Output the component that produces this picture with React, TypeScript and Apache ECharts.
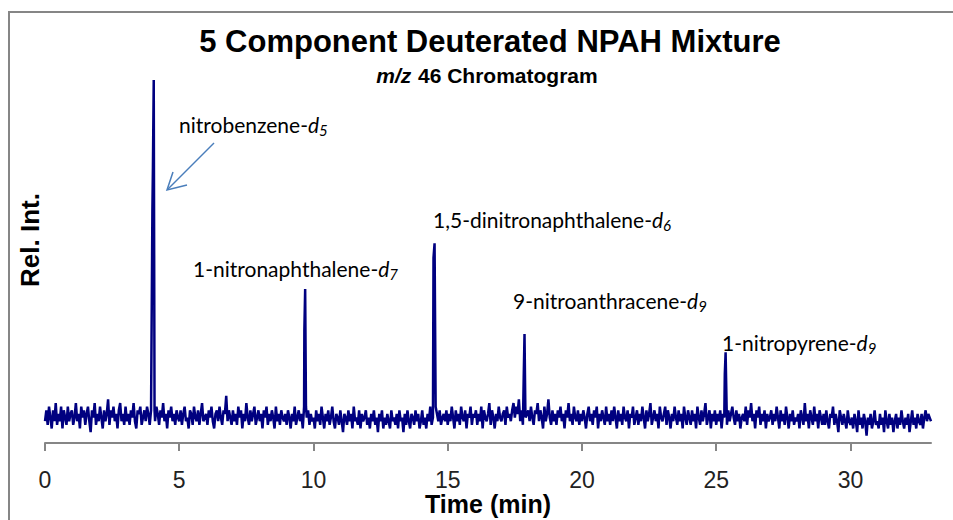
import React, { useEffect, useRef } from "react";
import * as echarts from "echarts";

// x axis (minutes)
const timeMin = 0;
const timeMax = 33;
const tickValues = [0, 5, 10, 15, 20, 25, 30];

const noiseStep = 0.05;
const noise = [
  6, 9, 5, 10, 7, 4, 9, 6, 11, 5, 8, 6, 10, 4, 9, 7, 5, 10, 6, 8,
  9, 5, 7, 11, 6, 8, 4, 10, 7, 9, 5, 8, 10, 6, 3, 9, 7, 11, 5, 8,
  6, 10, 7, 4, 9, 6, 8, 12, 5, 9, 7, 10, 6, 8, 4, 9, 11, 6, 8, 5,
  10, 6, 8, 5, 9, 7, 11, 6, 4, 9, 8, 10, 5, 7, 9, 6, 10, 8, 5, 9,
  7, 9, 6, 10, 8, 5, 9, 7, 11, 6, 8, 4, 9, 7, 10, 6, 8, 5, 9, 7,
  6, 9, 5, 8, 10, 6, 7, 4, 9, 8, 5, 10, 7, 6, 9, 5, 8, 11, 6, 7,
  8, 5, 9, 7, 10, 6, 4, 8, 9, 6, 10, 7, 5, 9, 8, 13, 6, 9, 7, 5,
  9, 6, 8, 5, 10, 7, 9, 4, 8, 6, 11, 7, 5, 9, 6, 8, 10, 5, 7, 9,
  6, 8, 4, 9, 7, 10, 5, 8, 6, 9, 7, 4, 10, 6, 8, 5, 9, 7, 6, 8,
  5, 9, 7, 4, 8, 6, 10, 5, 7, 9, 6, 8, 4, 10, 6, 7, 9, 5, 8, 6,
  7, 4, 9, 6, 8, 5, 10, 7, 4, 8, 6, 9, 5, 7, 10, 6, 4, 8, 7, 5,
  9, 6, 3, 8, 7, 5, 9, 6, 8, 4, 10, 6, 7, 5, 9, 4, 8, 6, 7, 9,
  5, 7, 4, 8, 6, 9, 5, 7, 3, 8, 6, 9, 4, 7, 5, 8, 6, 4, 9, 6,
  7, 5, 8, 4, 9, 6, 7, 3, 8, 5, 9, 6, 4, 8, 7, 5, 9, 6, 8, 4,
  6, 9, 5, 7, 4, 8, 6, 10, 5, 7, 9, 4, 8, 6, 9, 5, 7, 8, 6, 9,
  5, 8, 6, 10, 7, 4, 9, 6, 8, 5, 10, 7, 6, 9, 4, 8, 7, 10, 5, 8,
  7, 9, 5, 8, 6, 10, 4, 9, 7, 6, 8, 11, 5, 9, 7, 4, 8, 6, 10, 7,
  6, 8, 9, 5, 10, 7, 8, 6, 9, 11, 7, 10, 8, 12, 6, 9, 5, 10, 7, 8,
  9, 6, 10, 7, 5, 9, 8, 11, 6, 9, 7, 4, 10, 6, 8, 12, 7, 5, 9, 6,
  8, 5, 9, 7, 10, 6, 8, 4, 9, 7, 11, 6, 8, 5, 10, 7, 6, 9, 5, 8,
  6, 9, 7, 4, 8, 10, 6, 8, 5, 9, 7, 10, 4, 8, 6, 9, 7, 5, 10, 6,
  8, 5, 9, 6, 10, 7, 4, 9, 6, 8, 5, 10, 7, 6, 9, 4, 8, 7, 10, 5,
  7, 9, 5, 8, 6, 10, 7, 4, 9, 6, 8, 11, 5, 7, 9, 6, 8, 4, 10, 7,
  6, 8, 10, 5, 9, 7, 4, 8, 6, 10, 7, 5, 9, 6, 8, 4, 10, 7, 5, 9,
  7, 5, 9, 6, 8, 4, 10, 7, 5, 9, 6, 8, 11, 5, 7, 9, 4, 8, 6, 9,
  5, 8, 6, 9, 4, 8, 7, 10, 5, 9, 6, 8, 10, 7, 5, 9, 6, 8, 4, 7,
  8, 6, 10, 5, 9, 7, 11, 6, 8, 4, 9, 7, 10, 5, 8, 6, 9, 4, 8, 6,
  7, 9, 5, 8, 6, 10, 7, 4, 9, 6, 8, 5, 10, 7, 4, 8, 6, 9, 5, 7,
  6, 8, 4, 9, 7, 5, 11, 6, 8, 4, 9, 7, 5, 10, 6, 8, 4, 9, 7, 5,
  8, 5, 9, 6, 4, 8, 7, 10, 5, 8, 6, 3, 9, 7, 5, 8, 6, 4, 9, 6,
  5, 7, 4, 8, 6, 3, 9, 5, 7, 4, 8, 6, 2, 7, 5, 8, 4, 6, 9, 5,
  6, 4, 8, 5, 7, 3, 9, 6, 4, 8, 5, 7, 3, 6, 8, 4, 7, 5, 9, 6,
  4, 7, 5, 8, 3, 6, 9, 5, 7, 4, 8, 6, 5, 8, 4, 7, 9, 6, 8, 7,
  6,
];

// peaks: retention times (min) and intensities
const nitrobenzeneT = [4.0, 4.02, 4.05, 4.08];
const nitrobenzeneV = [64, 76, 100, 9];
const nitronaphthaleneT = [9.66, 9.69, 9.72];
const nitronaphthaleneV = [31, 42.4, 10];
const dinitronaphthaleneT = [14.47, 14.51, 14.55];
const dinitronaphthaleneV = [51, 55, 10];
const nitroanthraceneT = [17.83, 17.86, 17.89];
const nitroanthraceneV = [18, 30, 10];
const nitropyreneT = [25.32, 25.35, 25.39];
const nitropyreneV = [19, 25, 9];

// annotation texts
const labelNames = [
  "nitrobenzene-",
  "1-nitronaphthalene-",
  "1,5-dinitronaphthalene-",
  "9-nitroanthracene-",
  "1-nitropyrene-",
];
const labelSubs = ["5", "7", "6", "9", "9"];

function buildData(): number[][] {
  const peaks = [
    [nitrobenzeneT, nitrobenzeneV],
    [nitronaphthaleneT, nitronaphthaleneV],
    [dinitronaphthaleneT, dinitronaphthaleneV],
    [nitroanthraceneT, nitroanthraceneV],
    [nitropyreneT, nitropyreneV],
  ];
  const pts: number[][] = [];
  noise.forEach((v, i) => {
    const t = +(timeMin + i * noiseStep).toFixed(3);
    const inPeak = peaks.some(([ts]) => t >= ts[0] - 0.001 && t <= ts[ts.length - 1] + 0.001);
    if (!inPeak) pts.push([t, v]);
  });
  peaks.forEach(([ts, vs]) => ts.forEach((t, k) => pts.push([t, vs[k]])));
  pts.sort((a, b) => a[0] - b[0]);
  return pts;
}

const labelPos = [
  [179, 124],
  [193, 268],
  [433, 219],
  [513, 300],
  [722, 342],
];

export default function App() {
  const ref = useRef<HTMLDivElement>(null);
  useEffect(() => {
    document.body.style.margin = "0";
    if (!ref.current) return;
    const chart = echarts.init(ref.current, null, { renderer: "svg" });
    const annFont = "Lato, 'Open Sans', sans-serif";
    const annotations = labelNames.map((name, i) => ({
      type: "text",
      x: labelPos[i][0],
      y: labelPos[i][1],
      style: {
        text: `{n|${name}}{d|d}{s|${labelSubs[i]}}`,
        align: "left",
        verticalAlign: "middle",
        rich: {
          n: { fontFamily: annFont, fontSize: 21, color: "#111" },
          d: { fontFamily: annFont, fontSize: 21, fontStyle: "italic", color: "#111" },
          s: { fontFamily: annFont, fontSize: 15, fontStyle: "italic", color: "#111", padding: [11, 0, 0, 0] },
        },
      },
    }));
    chart.setOption({
      animation: false,
      backgroundColor: "#fff",
      grid: { left: 45, right: 22, top: 80, bottom: 77, outerBoundsMode: "none", containLabel: false },
      xAxis: {
        type: "value",
        min: timeMin,
        max: timeMax,
        interval: 5,
        axisLine: { lineStyle: { color: "#868686", width: 2 } },
        axisTick: { show: true, length: 8, customValues: tickValues, lineStyle: { color: "#868686", width: 2 } },
        axisLabel: {
          customValues: tickValues,
          fontFamily: "'Liberation Sans', Arial",
          fontSize: 23,
          color: "#222",
          margin: 25,
        },
        splitLine: { show: false },
      },
      yAxis: { type: "value", min: 0, max: 100, show: false },
      series: [
        {
          type: "line",
          data: buildData(),
          symbol: "none",
          lineStyle: { color: "#000080", width: 2.5 },
        },
      ],
      graphic: [
        {
          type: "rect",
          shape: { x: 9, y: 12, width: 1000, height: 600 },
          style: { fill: "none", stroke: "#868686", lineWidth: 2 },
          silent: true,
        },
        {
          type: "text",
          x: 490,
          y: 41,
          style: {
            text: "5 Component Deuterated NPAH Mixture",
            fontFamily: "'Liberation Sans', Arial",
            fontWeight: "bold",
            fontSize: 31,
            fill: "#000",
            align: "center",
            verticalAlign: "middle",
          },
        },
        {
          type: "text",
          x: 487,
          y: 75,
          style: {
            text: "{i|m/z}  {b|46 Chromatogram}",
            align: "center",
            verticalAlign: "middle",
            rich: {
              i: { fontFamily: "'Liberation Sans', Arial", fontWeight: "bold", fontStyle: "italic", fontSize: 21, color: "#000" },
              b: { fontFamily: "'Liberation Sans', Arial", fontWeight: "bold", fontSize: 21, color: "#000" },
            },
          },
        },
        {
          type: "text",
          x: 30,
          y: 240,
          rotation: Math.PI / 2,
          style: {
            text: "Rel. Int.",
            fontFamily: "'Liberation Sans', Arial",
            fontWeight: "bold",
            fontSize: 26,
            fill: "#000",
            align: "center",
            verticalAlign: "middle",
          },
        },
        {
          type: "text",
          x: 488,
          y: 504,
          style: {
            text: "Time (min)",
            fontFamily: "'Liberation Sans', Arial",
            fontWeight: "bold",
            fontSize: 25,
            fill: "#000",
            align: "center",
            verticalAlign: "middle",
          },
        },
        ...annotations,
        {
          type: "line",
          shape: { x1: 214, y1: 143, x2: 168, y2: 189 },
          style: { stroke: "#4a7ebb", lineWidth: 1.5 },
        },
        {
          type: "polyline",
          shape: { points: [[187, 185], [167, 190], [173, 172]] },
          style: { stroke: "#4a7ebb", lineWidth: 1.5, fill: "none" },
        },
      ],
    });
    return () => chart.dispose();
  }, []);
  return <div ref={ref} style={{ width: 953, height: 520 }} />;
}
